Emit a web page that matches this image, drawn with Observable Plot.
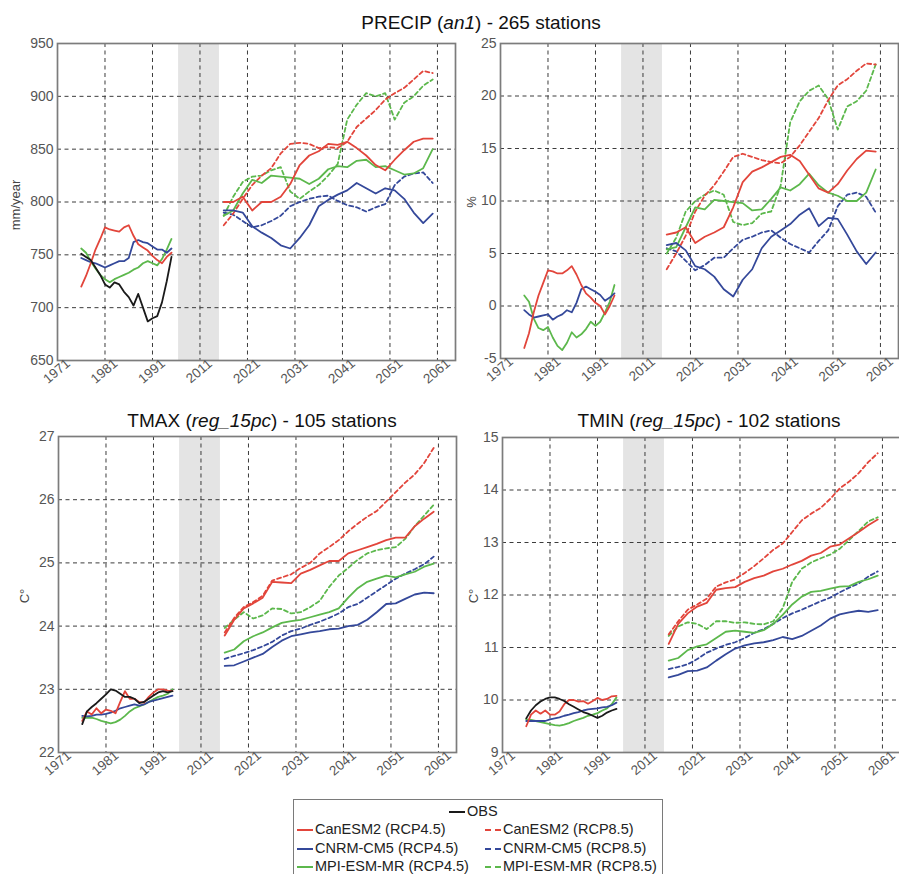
<!DOCTYPE html>
<html>
<head>
<meta charset="utf-8">
<script src="https://cdn.jsdelivr.net/npm/d3@7"></script>
<script src="https://cdn.jsdelivr.net/npm/@observablehq/plot@0.6"></script>
<style>
html,body{margin:0;padding:0;background:#fff;overflow:hidden;}
#root{position:relative;width:899px;height:874px;overflow:hidden;font-family:"Liberation Sans",Arial,sans-serif;background:#fff;}
.title{position:absolute;font-size:19px;color:#111;white-space:nowrap;transform:translate(-50%,-50%);}
.panel{position:absolute;}
.panel svg{max-width:none;}
.ylab{position:absolute;font-size:13px;color:#444;white-space:nowrap;transform:translate(-50%,-50%) rotate(-90deg);}
#legend{position:absolute;left:293px;top:799px;width:370px;height:76px;border:1.5px solid #7a7a7a;box-sizing:border-box;font-size:14.5px;color:#222;}
.lg{position:absolute;white-space:nowrap;line-height:16px;transform:translateY(-50%);}
.sw{display:inline-block;width:16px;height:0;vertical-align:middle;margin-right:2px;border-top-width:2px;}
</style>
</head>
<body>
<div id="root"></div>
<script>
// ---------------- data ----------------
const histYears = [1976,1977,1978,1979,1980,1981,1982,1983,1984,1985,1986,1987,1988,1989,1990,1991,1992,1993,1994,1995];
const futYears = [2016,2018,2020,2022,2024,2026,2028,2030,2032,2034,2036,2038,2040,2042,2044,2046,2048,2050,2052,2054,2056,2058,2060];
const tickYears = [1971,1981,1991,2011,2021,2031,2041,2051,2061];
const gapBand = [1996.5, 2015.1];

// PRECIP (mm/year)
const precipTicks = [650,700,750,800,850,900,950];
const precipObs = [751,748,745,738,731,722,719,724,722,715,710,702,713,700,687,690,692,705,725,748];
const precipCanHist = [720,730,742,755,765,776,774,773,772,776,778,768,760,757,754,749,745,742,748,752];
const precipCnrmHist = [747,745,743,742,740,738,740,742,744,744,747,762,764,762,761,758,755,755,752,756];
const precipMpiHist = [756,752,744,737,731,727,724,727,729,731,733,736,738,742,744,742,740,746,755,765];
const precipCan45 = [800,800,805,792,800,800,805,817,835,844,848,855,854,857,851,844,835,830,840,849,857,860,860];
const precipCan85 = [778,789,803,816,825,832,846,855,856,855,851,852,851,857,871,879,887,897,903,908,916,924,922];
const precipCnrm45 = [792,792,790,777,771,766,759,756,766,778,796,802,807,811,818,813,808,813,811,803,790,780,789];
const precipCnrm85 = [790,788,782,776,778,782,787,796,800,803,805,806,801,797,795,791,795,798,816,824,827,828,818];
const precipMpi45 = [787,792,808,821,818,825,824,823,822,817,822,831,834,833,839,840,833,834,830,826,827,832,850];
const precipMpi85 = [787,805,819,824,825,830,833,810,803,810,816,825,836,878,892,903,900,903,878,894,900,910,916];

// PRECIP (%)
const pctTicks = [-5,0,5,10,15,20,25];
const pctCanHist = [-4.0,-2.6,-0.6,1.0,2.2,3.4,3.3,3.1,3.1,3.4,3.8,3.0,2.0,1.2,0.8,0.3,0.0,-0.8,0.0,1.0];
const pctCnrmHist = [-0.4,-0.8,-1.1,-1.0,-0.9,-0.8,-1.3,-1.0,-0.8,-0.4,-0.6,0.3,1.6,1.85,1.6,1.35,1.05,0.5,0.8,1.2];
const pctMpiHist = [1.0,0.4,-1.2,-2.1,-2.3,-2.0,-3.0,-3.8,-4.2,-3.5,-2.5,-3.0,-2.7,-2.2,-1.5,-1.9,-1.5,-0.6,0.4,2.0];
const pctCan45 = [6.8,7.0,7.5,6.0,6.6,7.0,7.5,9.4,11.8,12.8,13.2,13.7,14.2,14.4,13.8,12.5,11.2,10.8,11.6,12.9,14.0,14.8,14.7];
const pctCan85 = [3.5,5.0,6.7,9.0,10.5,11.5,12.8,14.2,14.5,14.2,13.9,13.7,13.6,14.2,15.3,16.6,17.9,19.6,21.0,21.6,22.4,23.1,23.0];
const pctCnrm45 = [5.8,6.0,5.3,3.8,3.5,2.8,1.6,0.9,2.5,3.5,5.5,6.6,7.2,7.8,8.7,9.3,7.6,8.4,8.3,6.8,5.2,4.0,5.1];
const pctCnrm85 = [5.5,5.2,4.3,3.4,3.9,4.6,4.6,5.5,6.3,6.6,7.0,7.2,6.5,5.9,5.5,5.1,6.2,7.2,9.5,10.6,10.8,10.4,8.9];
const pctMpi45 = [5.4,5.6,7.5,9.4,9.2,10.1,10.0,9.9,9.8,9.1,9.2,10.2,11.3,11.0,11.6,12.6,11.5,10.8,10.5,10.0,10.0,10.8,13.0];
const pctMpi85 = [5.0,6.5,9.0,10.0,10.6,11.0,10.6,8.0,7.7,7.9,8.8,9.0,11.5,17.5,19.5,20.5,21.0,19.7,16.8,19.0,19.5,20.5,23.0];

// TMAX (C)
const tmaxTicks = [22,23,24,25,26,27];
const tmaxObs = [22.45,22.65,22.72,22.78,22.85,22.92,23.0,22.98,22.93,22.88,22.88,22.85,22.78,22.8,22.85,22.9,22.95,22.97,22.95,22.97];
const tmaxCanHist = [22.5,22.65,22.6,22.7,22.62,22.68,22.66,22.62,22.8,22.97,22.85,22.85,22.8,22.79,22.88,22.95,23.0,23.0,22.98,22.97];
const tmaxCnrmHist = [22.58,22.57,22.58,22.6,22.6,22.61,22.63,22.66,22.7,22.72,22.74,22.76,22.74,22.76,22.8,22.82,22.84,22.86,22.88,22.9];
const tmaxMpiHist = [22.55,22.55,22.55,22.53,22.5,22.48,22.46,22.48,22.52,22.58,22.65,22.7,22.73,22.76,22.8,22.84,22.88,22.9,22.93,23.0];
const tmaxCan45 = [23.85,24.1,24.28,24.36,24.45,24.7,24.69,24.68,24.83,24.89,24.96,25.03,25.03,25.15,25.2,25.25,25.3,25.36,25.4,25.4,25.58,25.7,25.81];
const tmaxCan85 = [23.9,24.13,24.3,24.38,24.48,24.72,24.77,24.82,24.92,25.0,25.15,25.25,25.36,25.5,25.62,25.73,25.82,25.97,26.12,26.27,26.4,26.58,26.82];
const tmaxCnrm45 = [23.37,23.38,23.44,23.5,23.56,23.67,23.77,23.84,23.87,23.9,23.92,23.95,23.96,24.0,24.02,24.1,24.22,24.35,24.36,24.43,24.5,24.53,24.52];
const tmaxCnrm85 = [23.48,23.53,23.57,23.62,23.68,23.75,23.85,23.92,23.96,24.02,24.07,24.13,24.2,24.3,24.35,24.45,24.55,24.65,24.75,24.83,24.9,24.98,25.1];
const tmaxMpi45 = [23.58,23.63,23.76,23.84,23.9,23.98,24.05,24.08,24.1,24.14,24.18,24.22,24.28,24.45,24.6,24.7,24.75,24.8,24.77,24.82,24.86,24.94,24.99];
const tmaxMpi85 = [23.97,24.1,24.22,24.12,24.17,24.28,24.27,24.2,24.22,24.3,24.4,24.62,24.8,24.92,25.05,25.15,25.2,25.23,25.25,25.38,25.58,25.75,25.92];

// TMIN (C)
const tminTicks = [9,10,11,12,13,14,15];
const tminObs = [9.65,9.8,9.9,9.97,10.02,10.05,10.05,10.02,9.98,9.92,9.87,9.82,9.77,9.74,9.7,9.66,9.7,9.76,9.8,9.83];
const tminCanHist = [9.5,9.72,9.8,9.74,9.8,9.72,9.72,9.78,9.92,10.0,10.0,9.97,9.98,9.93,9.98,10.04,10.0,10.02,10.07,10.08];
const tminCnrmHist = [9.6,9.6,9.6,9.6,9.6,9.63,9.65,9.67,9.7,9.72,9.75,9.77,9.8,9.82,9.83,9.84,9.86,9.87,9.9,9.95];
const tminMpiHist = [9.63,9.62,9.6,9.58,9.56,9.54,9.52,9.51,9.53,9.56,9.6,9.63,9.66,9.7,9.72,9.75,9.8,9.84,9.92,10.05];
const tminCan45 = [11.07,11.45,11.65,11.78,11.85,12.1,12.13,12.15,12.25,12.32,12.37,12.45,12.5,12.58,12.65,12.75,12.8,12.92,12.96,13.08,13.2,13.33,13.44];
const tminCan85 = [11.25,11.5,11.72,11.82,11.93,12.16,12.24,12.3,12.42,12.55,12.7,12.86,12.98,13.2,13.42,13.55,13.66,13.83,14.03,14.16,14.32,14.53,14.7];
const tminCnrm45 = [10.43,10.48,10.55,10.56,10.62,10.75,10.87,10.98,11.04,11.08,11.1,11.14,11.2,11.16,11.22,11.32,11.42,11.55,11.63,11.67,11.7,11.68,11.71];
const tminCnrm85 = [10.59,10.63,10.68,10.78,10.9,10.98,11.05,11.1,11.18,11.28,11.35,11.45,11.56,11.65,11.72,11.8,11.88,11.95,12.05,12.14,12.22,12.35,12.45];
const tminMpi45 = [10.75,10.8,10.95,11.02,11.06,11.18,11.3,11.32,11.3,11.28,11.33,11.45,11.62,11.82,11.97,12.06,12.08,12.12,12.16,12.17,12.25,12.3,12.37];
const tminMpi85 = [11.22,11.4,11.48,11.45,11.35,11.5,11.5,11.47,11.48,11.45,11.44,11.5,11.75,12.25,12.5,12.62,12.7,12.77,12.88,13.05,13.22,13.4,13.48];

// ---------------- styles ----------------
const RED = "#e2453b", BLUE = "#34489a", GREEN = "#5cb84c", BLACK = "#1a1a1a";
const GRID = "#3c3c3c";
const FONT = "'Liberation Sans', Arial, sans-serif";

// broken time axis: historical years and scenario years share one axis with 2001 dropped
const toPos = y => (y < 2000 ? y - 1971 : y - 1981);
const xDomain = [0, 83.8];

function series(years, vals) {
  return years.map((yr, i) => ({x: toPos(yr), y: vals[i]}));
}

function makePanel(cfg) {
  const solid = {strokeWidth: 1.8, strokeLinejoin: "round"};
  const dashed = {strokeWidth: 1.8, strokeDasharray: "4,3"};
  const marks = [
    Plot.rect([{x1: toPos(gapBand[0]), x2: toPos(gapBand[1])}], {x1: "x1", x2: "x2", fill: "#e4e4e4"}),
    Plot.ruleX(tickYears.slice(1).map(toPos), {stroke: GRID, strokeWidth: 1, strokeDasharray: "4,3.5"}),
    Plot.ruleY(cfg.ticks.slice(1, -1), {stroke: GRID, strokeWidth: 1, strokeDasharray: "4,3.5"}),
    Plot.line(series(futYears, cfg.mpi85), {x: "x", y: "y", stroke: GREEN, ...dashed}),
    Plot.line(series(futYears, cfg.cnrm85), {x: "x", y: "y", stroke: BLUE, ...dashed}),
    Plot.line(series(futYears, cfg.can85), {x: "x", y: "y", stroke: RED, ...dashed}),
    Plot.line(series(histYears, cfg.mpiHist), {x: "x", y: "y", stroke: GREEN, ...solid}),
    Plot.line(series(histYears, cfg.cnrmHist), {x: "x", y: "y", stroke: BLUE, ...solid}),
    Plot.line(series(histYears, cfg.canHist), {x: "x", y: "y", stroke: RED, ...solid}),
    Plot.line(series(futYears, cfg.mpi45), {x: "x", y: "y", stroke: GREEN, ...solid}),
    Plot.line(series(futYears, cfg.cnrm45), {x: "x", y: "y", stroke: BLUE, ...solid}),
    Plot.line(series(futYears, cfg.can45), {x: "x", y: "y", stroke: RED, ...solid}),
  ];
  if (cfg.obs) marks.push(Plot.line(series(histYears, cfg.obs), {x: "x", y: "y", stroke: BLACK, ...solid}));
  marks.push(
    Plot.frame({stroke: "#7c7c7c", strokeWidth: 1.7}),
    Plot.text(cfg.ticks, {y: d => d, text: d => String(d), frameAnchor: "left", textAnchor: "end", dx: -4, fill: "#555", fontSize: 14}),
    Plot.text(tickYears, {x: d => toPos(d), text: d => String(d), frameAnchor: "bottom", textAnchor: "middle", rotate: -40, dx: 2, dy: 14, fill: "#555", fontSize: 13.5})
  );
  const svg = Plot.plot({
    width: cfg.width, height: cfg.height,
    marginLeft: cfg.ml, marginRight: cfg.mr, marginTop: cfg.mt, marginBottom: cfg.mb,
    x: {domain: xDomain, axis: null},
    y: {domain: [cfg.ticks[0], cfg.ticks[cfg.ticks.length - 1]], axis: null},
    style: {fontFamily: FONT, background: "transparent", overflow: "visible", maxWidth: "none"},
    marks
  });
  const div = document.createElement("div");
  div.className = "panel";
  div.style.left = cfg.left + "px";
  div.style.top = cfg.top + "px";
  div.style.width = cfg.width + "px";
  div.appendChild(svg);
  return div;
}

const root = document.getElementById("root");

root.appendChild(makePanel({
  left: 0, top: 0, width: 460, height: 410, ml: 57, mr: 5, mt: 43, mb: 50,
  ticks: precipTicks, obs: precipObs,
  canHist: precipCanHist, cnrmHist: precipCnrmHist, mpiHist: precipMpiHist,
  can45: precipCan45, can85: precipCan85, cnrm45: precipCnrm45, cnrm85: precipCnrm85, mpi45: precipMpi45, mpi85: precipMpi85
}));
root.appendChild(makePanel({
  left: 445, top: 0, width: 454, height: 410, ml: 55, mr: 1, mt: 43, mb: 52,
  ticks: pctTicks, obs: null,
  canHist: pctCanHist, cnrmHist: pctCnrmHist, mpiHist: pctMpiHist,
  can45: pctCan45, can85: pctCan85, cnrm45: pctCnrm45, cnrm85: pctCnrm85, mpi45: pctMpi45, mpi85: pctMpi85
}));
root.appendChild(makePanel({
  left: 0, top: 400, width: 460, height: 400, ml: 58, mr: 4, mt: 36, mb: 48,
  ticks: tmaxTicks, obs: tmaxObs,
  canHist: tmaxCanHist, cnrmHist: tmaxCnrmHist, mpiHist: tmaxMpiHist,
  can45: tmaxCan45, can85: tmaxCan85, cnrm45: tmaxCnrm45, cnrm85: tmaxCnrm85, mpi45: tmaxMpi45, mpi85: tmaxMpi85
}));
root.appendChild(makePanel({
  left: 445, top: 400, width: 459, height: 400, ml: 57, mr: 4, mt: 37, mb: 48,
  ticks: tminTicks, obs: tminObs,
  canHist: tminCanHist, cnrmHist: tminCnrmHist, mpiHist: tminMpiHist,
  can45: tminCan45, can85: tminCan85, cnrm45: tminCnrm45, cnrm85: tminCnrm85, mpi45: tminMpi45, mpi85: tminMpi85
}));

// titles
function addTitle(html, x, y) {
  const d = document.createElement("div");
  d.className = "title";
  d.innerHTML = html;
  d.style.left = x + "px"; d.style.top = y + "px";
  root.appendChild(d);
}
addTitle("PRECIP (<i>an1</i>) - 265 stations", 481, 23);
addTitle("TMAX (<i>reg_15pc</i>) - 105 stations", 262, 421);
addTitle("TMIN (<i>reg_15pc</i>) - 102 stations", 709, 421);

function addYLabel(text, x, y) {
  const d = document.createElement("div");
  d.className = "ylab";
  d.textContent = text;
  d.style.left = x + "px"; d.style.top = y + "px";
  root.appendChild(d);
}
addYLabel("mm/year", 15, 205);
addYLabel("%", 471, 202);
addYLabel("C°", 24, 596);
addYLabel("C°", 473, 596);

// legend
const legendItems = [
  {label: "OBS", color: BLACK, dash: false, left: 155, top: 11},
  {label: "CanESM2 (RCP4.5)", color: RED, dash: false, left: 3, top: 29},
  {label: "CNRM-CM5 (RCP4.5)", color: BLUE, dash: false, left: 3, top: 48},
  {label: "MPI-ESM-MR (RCP4.5)", color: GREEN, dash: false, left: 3, top: 66},
  {label: "CanESM2 (RCP8.5)", color: RED, dash: true, left: 191, top: 29},
  {label: "CNRM-CM5 (RCP8.5)", color: BLUE, dash: true, left: 191, top: 48},
  {label: "MPI-ESM-MR (RCP8.5)", color: GREEN, dash: true, left: 191, top: 66}
];
const legend = document.createElement("div");
legend.id = "legend";
for (const it of legendItems) {
  const row = document.createElement("div");
  row.className = "lg";
  row.style.left = it.left + "px";
  row.style.top = it.top + "px";
  const sw = document.createElement("span");
  sw.className = "sw";
  sw.style.borderTopStyle = it.dash ? "dashed" : "solid";
  sw.style.borderTopColor = it.color;
  row.appendChild(sw);
  row.appendChild(document.createTextNode(it.label));
  legend.appendChild(row);
}
root.appendChild(legend);
</script>
</body>
</html>
